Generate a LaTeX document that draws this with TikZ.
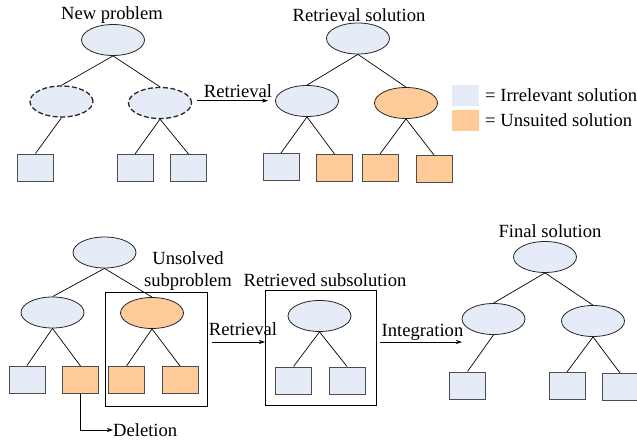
\documentclass[tikz,border=0pt]{standalone}
\usepackage{fontspec}
\setmainfont{Liberation Serif}
\usetikzlibrary{shapes.geometric,arrows.meta}
\definecolor{irrel}{HTML}{E6ECF7}
\definecolor{unsuit}{HTML}{FFCC99}

\begin{document}
\begin{tikzpicture}[x=1pt, y=-1pt,
  sub/.style={ellipse, draw=black!85, fill=irrel, minimum width=63, minimum height=31, inner sep=0, line width=0.8pt},
  dashsub/.style={dash pattern=on 5pt off 2.5pt, line width=1.3pt},
  leaf/.style={rectangle, draw=black!70, fill=irrel, minimum width=36, minimum height=27, inner sep=0, line width=1pt},
  bad/.style={fill=unsuit},
  key/.style={rectangle, fill=irrel, minimum width=27, minimum height=21, inner sep=0},
  lbl/.style={font=\fontsize{18.6}{22}\selectfont, inner sep=0},
  frame/.style={rectangle, draw, line width=1pt, inner sep=0},
  link/.style={line width=0.7pt},
  arrow/.style={-{Stealth[length=6pt,width=4pt]}, line width=0.7pt}
]
\useasboundingbox (0,0) rectangle (637,441);

% new problem
\node[lbl] (tnew) at (112,15) {New problem};
\node[sub] (np) at (113,40) {};
\node[sub, dashsub] (np1) at (61.5,101.5) {};
\node[sub, dashsub] (np2) at (160,103) {};
\node[leaf] (np11) at (35.5,167.5) {};
\node[leaf] (np21) at (135,168) {};
\node[leaf] (np22) at (188.5,168) {};
\draw[link] (np.south) -- (np1.north);
\draw[link] (np.south) -- (np2.north);
\draw[link] (np1.south) -- (np11.north);
\draw[link] (np2.south) -- (np21.north);
\draw[link] (np2.south) -- (np22.north);

% retrieval
\coordinate (ra) at (197,100.7);
\coordinate (rb) at (268,100.7);
\draw[arrow] (ra) -- (rb);
\node[lbl, anchor=base] (tret) at (238,98) {Retrieval};

% retrieval solution
\node[lbl] (tsol) at (359,15) {Retrieval solution};
\node[sub] (rs) at (358,38.5) {};
\node[sub] (rs1) at (307,101) {};
\node[sub, bad] (rs2) at (406,103) {};
\node[leaf] (rs11) at (281,167) {};
\node[leaf, bad] (rs12) at (334.5,168) {};
\node[leaf, bad] (rs21) at (380,168) {};
\node[leaf, bad] (rs22) at (434,169) {};
\draw[link] (rs.south) -- (rs1.north);
\draw[link] (rs.south) -- (rs2.north);
\draw[link] (rs1.south) -- (rs11.north);
\draw[link] (rs1.south) -- (rs12.north);
\draw[link] (rs2.south) -- (rs21.north);
\draw[link] (rs2.south) -- (rs22.north);

% legend
\node[key] (kirr) at (465.5,95.5) {};
\node[key, fill=unsuit] (kuns) at (465.5,120.5) {};
\node[lbl, anchor=west] (tirr) at (485,95.5) {= Irrelevant solution};
\node[lbl, anchor=west] (tuns) at (485,120.5) {= Unsuited solution};

% unsolved subproblem
\node[frame, minimum width=102, minimum height=114] (ubox) at (156,349) {};
\node[sub] (us) at (104.5,252.5) {};
\node[sub] (us1) at (52.5,312.5) {};
\node[sub, bad] (us2) at (152,313) {};
\node[leaf] (us11) at (27,379.5) {};
\node[leaf, bad] (us12) at (80.5,380) {};
\node[leaf, bad] (us21) at (126.5,380) {};
\node[leaf, bad] (us22) at (180,380) {};
\draw[link] (us.south) -- (us1.north);
\draw[link] (us.south) -- (us2.north);
\draw[link] (us1.south) -- (us11.north);
\draw[link] (us1.south) -- (us12.north);
\draw[link] (us2.south) -- (us21.north);
\draw[link] (us2.south) -- (us22.north);
\node[lbl, align=center] (tuns2) at (188,271) {Unsolved\\subproblem};

% deletion
\node[lbl, anchor=west] (tdel) at (113,430) {Deletion};
\draw[arrow] (us12.south) |- (tdel.west);

% retrieval 2
\coordinate (rc) at (212,342);
\coordinate (rd) at (265,342);
\draw[arrow] (rc) -- (rd);
\node[lbl, anchor=base] (tret2) at (243,335) {Retrieval};

% retrieved subsolution
\node[lbl] (tsub) at (325,280) {Retrieved subsolution};
\node[frame, minimum width=111, minimum height=115] (rbox) at (320.5,347.5) {};
\node[sub] (ss) at (319.5,316) {};
\node[leaf] (ss1) at (293.5,380.5) {};
\node[leaf] (ss2) at (347,380.5) {};
\draw[link] (ss.south) -- (ss1.north);
\draw[link] (ss.south) -- (ss2.north);

% integration
\coordinate (ia) at (380,342);
\coordinate (ib) at (462,342);
\draw[arrow] (ia) -- (ib);
\node[lbl, anchor=base] (tint) at (422.5,336) {Integration};

% final solution
\node[lbl] (tfin) at (550,231) {Final solution};
\node[sub] (fs) at (545,257) {};
\node[sub] (fs1) at (493.5,319) {};
\node[sub] (fs2) at (593,321) {};
\node[leaf] (fs11) at (467.5,385.5) {};
\node[leaf] (fs21) at (567,386) {};
\node[leaf] (fs22) at (620,387) {};
\draw[link] (fs.south) -- (fs1.north);
\draw[link] (fs.south) -- (fs2.north);
\draw[link] (fs1.south) -- (fs11.north);
\draw[link] (fs2.south) -- (fs21.north);
\draw[link] (fs2.south) -- (fs22.north);
\end{tikzpicture}
\end{document}
